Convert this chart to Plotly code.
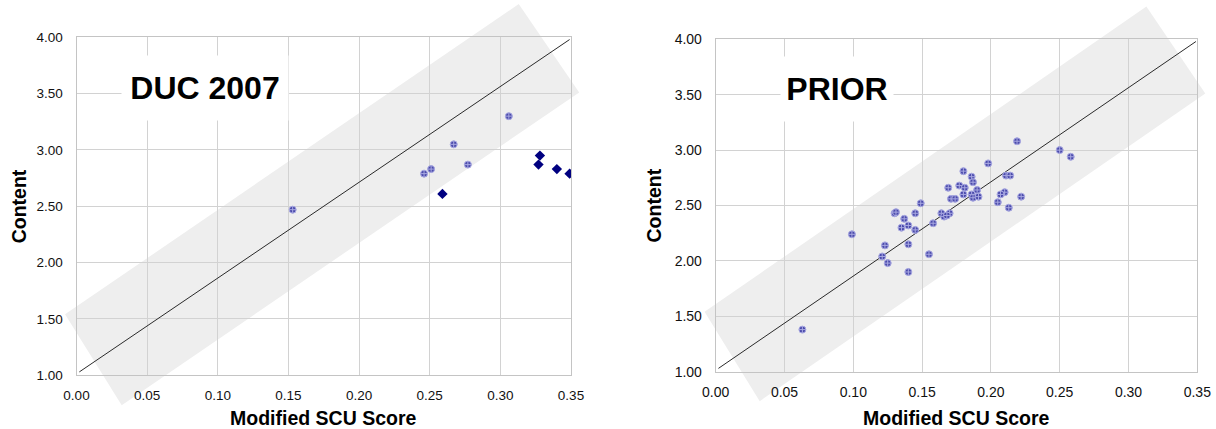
import plotly.graph_objects as go

# ---------------- data ----------------
# DUC 2007 panel
duc_light_x = [0.153, 0.246, 0.251, 0.267, 0.277, 0.306]
duc_light_y = [2.47, 2.79, 2.83, 3.05, 2.87, 3.30]
duc_dark_x = [0.259, 0.328, 0.327, 0.340, 0.349]
duc_dark_y = [2.61, 2.95, 2.87, 2.83, 2.79]

# PRIOR panel
prior_x = [0.219, 0.250, 0.258, 0.198, 0.180, 0.211, 0.214, 0.186, 0.187, 0.177,
           0.169, 0.181, 0.190, 0.210, 0.207, 0.180, 0.186, 0.187, 0.191, 0.171,
           0.174, 0.222, 0.205, 0.213, 0.149, 0.130, 0.131, 0.145, 0.164, 0.166,
           0.170, 0.168, 0.137, 0.158, 0.140, 0.135, 0.145, 0.099, 0.123, 0.140,
           0.155, 0.121, 0.125, 0.140, 0.063]
prior_y = [3.08, 3.00, 2.94, 2.88, 2.81, 2.77, 2.77, 2.76, 2.71, 2.68,
           2.66, 2.66, 2.64, 2.62, 2.60, 2.60, 2.60, 2.57, 2.58, 2.56,
           2.56, 2.58, 2.53, 2.48, 2.52, 2.43, 2.44, 2.43, 2.43, 2.40,
           2.43, 2.41, 2.38, 2.34, 2.32, 2.30, 2.28, 2.24, 2.14, 2.15,
           2.06, 2.04, 1.98, 1.90, 1.38]

# reference diagonal
ref_x = [0.002, 0.349]
ref_y = [1.03, 3.98]

# shaded band corners (data space)
band_x = [-0.0081, 0.0320, 0.3558, 0.3130]
band_y = [1.541, 0.734, 3.511, 4.295]

x_ticks = [0.00, 0.05, 0.10, 0.15, 0.20, 0.25, 0.30, 0.35]
y_ticks = [1.00, 1.50, 2.00, 2.50, 3.00, 3.50, 4.00]
x_range = [0.0, 0.35]
y_range = [1.0, 4.0]

titles = ["DUC 2007", "PRIOR"]
x_title = "Modified SCU Score"
y_title = "Content"

# ---------------- figure ----------------
W, H = 1216, 429
FONT = "Liberation Sans, Arial, sans-serif"

fig = go.Figure()

light_marker = dict(symbol="circle-cross", size=7, color="#4b4bab",
                    line=dict(color="#a9a9e2", width=1))

# left panel
fig.add_trace(go.Scatter(x=ref_x, y=ref_y, mode="lines",
                         line=dict(color="#2a2a2a", width=1),
                         xaxis="x", yaxis="y", showlegend=False, hoverinfo="skip"))
fig.add_trace(go.Scatter(x=duc_light_x, y=duc_light_y, mode="markers",
                         marker=light_marker, xaxis="x", yaxis="y", showlegend=False))
fig.add_trace(go.Scatter(x=duc_dark_x, y=duc_dark_y, mode="markers",
                         marker=dict(symbol="diamond", size=8, color="#000080"),
                         xaxis="x", yaxis="y", showlegend=False))
# right panel
fig.add_trace(go.Scatter(x=ref_x, y=ref_y, mode="lines",
                         line=dict(color="#2a2a2a", width=1),
                         xaxis="x2", yaxis="y2", showlegend=False, hoverinfo="skip"))
fig.add_trace(go.Scatter(x=prior_x, y=prior_y, mode="markers",
                         marker=light_marker, xaxis="x2", yaxis="y2", showlegend=False))

# panel geometry (paper fractions)
panels = [
    dict(xd=[76.5 / W, 571.0 / W], yd=[1 - 375.3 / H, 1 - 37.3 / H], tick=13.5),
    dict(xd=[715.7 / W, 1197.3 / W], yd=[1 - 371.7 / H, 1 - 39.3 / H], tick=14),
]

axis_common = dict(showgrid=True, gridcolor="#d2d2d2", gridwidth=1,
                   showline=True, linecolor="#c4c4c4", linewidth=1, mirror=True,
                   zeroline=False, ticks="", tickformat=".2f",
                   fixedrange=True, automargin=False)

for i, p in enumerate(panels):
    sx = "" if i == 0 else str(i + 1)
    fig.update_layout(**{
        f"xaxis{sx}": dict(axis_common, domain=p["xd"], range=x_range, tickvals=x_ticks,
                           anchor=f"y{sx}", ticklabelstandoff=7,
                           tickfont=dict(family=FONT, size=p["tick"], color="#111111")),
        f"yaxis{sx}": dict(axis_common, domain=p["yd"], range=y_range, tickvals=y_ticks,
                           anchor=f"x{sx}", ticklabelstandoff=10,
                           tickfont=dict(family=FONT, size=p["tick"], color="#111111")),
    })

# band shapes through domain coordinates of each panel's axes
def to_dom(v, r):
    return (v - r[0]) / (r[1] - r[0])

shapes = []
for i in range(2):
    sx = "" if i == 0 else str(i + 1)
    pts = [(to_dom(bx, x_range), to_dom(by, y_range)) for bx, by in zip(band_x, band_y)]
    path = "M " + " L ".join(f"{a:.5f},{b:.5f}" for a, b in pts) + " Z"
    shapes.append(dict(type="path", path=path, xref=f"x{sx} domain", yref=f"y{sx} domain",
                       fillcolor="#eeeeee", line=dict(width=0), layer="below"))

# titles inside panels (white boxes)
annotations = []
title_pos = [(0.091, 3.55, 164, 62), (0.088, 3.55, 110, 62)]
for i, (t, (tx, ty, bw, bh)) in enumerate(zip(titles, title_pos)):
    sx = "" if i == 0 else str(i + 1)
    annotations.append(dict(text=f"<b>{t}</b>", x=tx, y=ty, xref=f"x{sx}", yref=f"y{sx}",
                            showarrow=False, bgcolor="white", width=bw, height=bh,
                            font=dict(family=FONT, size=32, color="black"),
                            xanchor="center", yanchor="middle"))

# axis titles
for i, p in enumerate(panels):
    cx = (p["xd"][0] + p["xd"][1]) / 2
    cy = (p["yd"][0] + p["yd"][1]) / 2
    annotations.append(dict(text=f"<b>{x_title}</b>", x=cx, y=1 - 418 / H,
                            xref="paper", yref="paper", showarrow=False,
                            font=dict(family=FONT, size=19.5, color="black"),
                            xanchor="center", yanchor="middle"))
    ylx = [19 / W, 654 / W][i]
    annotations.append(dict(text=f"<b>{y_title}</b>", x=ylx, y=cy, textangle=-90,
                            xref="paper", yref="paper", showarrow=False,
                            font=dict(family=FONT, size=19.5, color="black"),
                            xanchor="center", yanchor="middle"))

fig.update_layout(width=W, height=H, autosize=False,
                  margin=dict(l=0, r=0, t=0, b=0),
                  paper_bgcolor="white", plot_bgcolor="white",
                  shapes=shapes, annotations=annotations,
                  font=dict(family=FONT))

fig.write_html("out.html", config={"displayModeBar": False},
               post_script="document.body.style.margin='0';")
